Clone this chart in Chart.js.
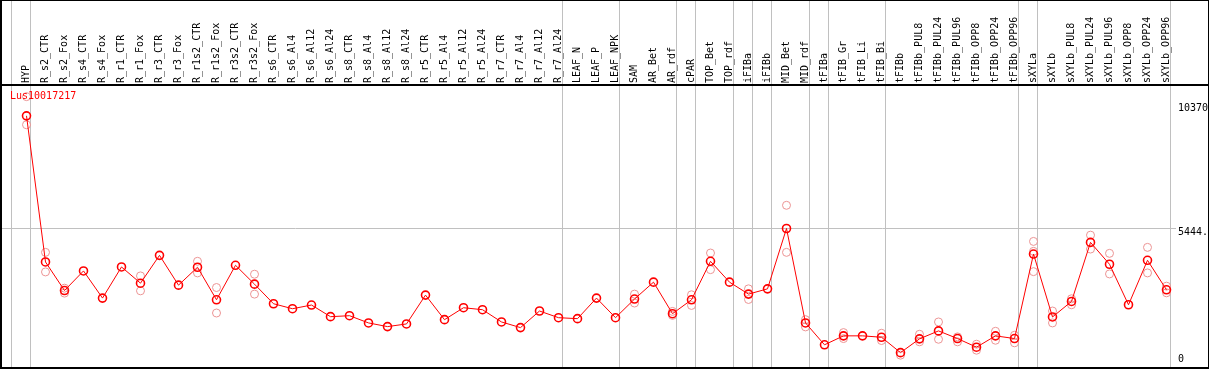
<!DOCTYPE html>
<html>
<head>
<meta charset="utf-8">
<script src="https://cdn.jsdelivr.net/npm/chart.js@4.4.0/dist/chart.umd.min.js"></script>
<style>
  html, body { margin: 0; padding: 0; background: #fff; }
  #wrap { width: 1209px; height: 370px; }
</style>
</head>
<body>
<div id="wrap"><canvas id="exprChart"></canvas></div>
<script>
// gene shown in the plot
const geneName = 'Lus10017217';

// sample names (x categories)
const samples = ['HYP', 'R_s2_CTR', 'R_s2_Fox', 'R_s4_CTR', 'R_s4_Fox', 'R_r1_CTR', 'R_r1_Fox', 'R_r3_CTR', 'R_r3_Fox',
  'R_r1s2_CTR', 'R_r1s2_Fox', 'R_r3s2_CTR', 'R_r3s2_Fox', 'R_s6_CTR', 'R_s6_Al4', 'R_s6_Al12', 'R_s6_Al24',
  'R_s8_CTR', 'R_s8_Al4', 'R_s8_Al12', 'R_s8_Al24', 'R_r5_CTR', 'R_r5_Al4', 'R_r5_Al12', 'R_r5_Al24',
  'R_r7_CTR', 'R_r7_Al4', 'R_r7_Al12', 'R_r7_Al24', 'LEAF_N', 'LEAF_P', 'LEAF_NPK', 'SAM', 'AR_Bet', 'AR_rdf',
  'cPAR', 'TOP_Bet', 'TOP_rdf', 'iFIBa', 'iFIBb', 'MID_Bet', 'MID_rdf', 'tFIBa', 'tFIB_Gr', 'tFIB_Li', 'tFIB_Bi',
  'tFIBb', 'tFIBb_PUL8', 'tFIBb_PUL24', 'tFIBb_PUL96', 'tFIBb_OPP8', 'tFIBb_OPP24', 'tFIBb_OPP96',
  'sXYLa', 'sXYLb', 'sXYLb_PUL8', 'sXYLb_PUL24', 'sXYLb_PUL96', 'sXYLb_OPP8', 'sXYLb_OPP24', 'sXYLb_OPP96'];

// mean expression per sample
const meanExpr = [9885, 4073, 2938, 3717, 2637, 3875, 3230, 4337, 3151, 3863, 2570, 3942, 3191, 2412, 2214, 2361,
  1898, 1937, 1649, 1503, 1609, 2756, 1779, 2254, 2175, 1688, 1463, 2123, 1858, 1819, 2637, 1858, 2598, 3270,
  2017, 2570, 4100, 3270, 2795, 3005, 5405, 1649, 779, 1135, 1135, 1080, 468, 1016, 1332, 1028, 684, 1135,
  1028, 4389, 1886, 2503, 4852, 3982, 2372, 4140, 2966];

// replicate values (null where hidden under the mean marker)
const repHigh = [10648, 4456, 3032, null, null, null, 3519, null, null, 4100, 3057, null, 3586, null, null, null,
  null, null, null, null, null, null, null, null, null, null, null, null, null, null, null, null, 2795, null,
  2107, 2768, 4429, null, 3005, null, 6327, 1779, null, 1265, null, 1238, null, 1198, 1688, 1094, 803, 1317,
  1159, 4891, 2123, 2610, 5140, 4417, null, 4654, 3112];
const repLow = [9530, 3677, 2835, null, null, null, 2926, null, null, 3638, 2044, null, 2795, null, null, null,
  null, null, null, null, null, null, null, null, null, null, null, null, null, null, null, null, 2440, null,
  1949, 2345, 3768, null, 2582, null, 4456, 1491, null, 1028, null, 949, 368, 898, 1000, 898, 565, 961,
  858, 3689, 1649, 2372, 4587, 3598, null, 3638, 2847];
const repExtra = samples.map(s => s === 'sXYLa' ? 4496 : null);

// y axis
const yTicks = [0, 5444, 10370];
const yTickLabels = ['0', '5444.', '10370'];
const yMax = 11111;

// sample index after which a group separator is drawn
const groupEnds = [-1, 0, 28, 31, 34, 35, 37, 38, 39, 41, 42, 45, 52, 53, 60];

const monoFont = { family: 'DejaVu Sans Mono', size: 10 };

const framePlugin = {
    id: 'frame',
    beforeDatasetsDraw(chart) {
        const { ctx, chartArea, scales: { x, y } } = chart;
        const x0 = x.getPixelForValue(0);
        const step = x.getPixelForValue(1) - x0;
        ctx.save();
        ctx.strokeStyle = '#c0c0c0';
        ctx.lineWidth = 1;
        groupEnds.forEach(i => {
            const px = Math.round(x0 + (i + 0.2) * step) + 0.5;
            ctx.beginPath();
            ctx.moveTo(px, 0);
            ctx.lineTo(px, chart.height - 2);
            ctx.stroke();
        });
        const gy = Math.round(y.getPixelForValue(yTicks[1])) + 0.5;
        ctx.beginPath();
        ctx.moveTo(2, gy);
        ctx.lineTo(chartArea.right, gy);
        ctx.stroke();
        ctx.restore();
    },
    afterDraw(chart) {
        const { ctx, chartArea, scales: { y } } = chart;
        ctx.save();
        ctx.strokeStyle = '#000';
        ctx.lineWidth = 2;
        ctx.strokeRect(1, 0, chart.width - 1, chart.height - 2);
        ctx.beginPath();
        ctx.moveTo(0, chartArea.top);
        ctx.lineTo(chart.width, chartArea.top);
        ctx.stroke();

        ctx.font = '10px "DejaVu Sans Mono"';
        ctx.fillStyle = '#000';
        ctx.textAlign = 'left';
        yTicks.forEach((v, i) => {
            const py = y.getPixelForValue(v);
            ctx.textBaseline = v === 0 ? 'bottom' : 'top';
            ctx.fillText(yTickLabels[i], chartArea.right + 2, py);
        });

        ctx.fillStyle = '#ff0000';
        ctx.textBaseline = 'top';
        ctx.fillText(geneName, 10, chartArea.top + 6);
        ctx.restore();
    }
};

const repStyle = {
    type: 'line',
    showLine: false,
    pointRadius: 4,
    pointBorderWidth: 1,
    pointBorderColor: '#ec9494',
    pointBackgroundColor: 'rgba(0,0,0,0)'
};

const config = {
    type: 'line',
    data: {
        labels: samples,
        datasets: [{
            label: geneName,
            data: meanExpr,
            borderColor: '#ff0000',
            borderWidth: 1,
            pointRadius: 4,
            pointBorderWidth: 1.6,
            pointBorderColor: '#ff0000',
            pointBackgroundColor: 'rgba(0,0,0,0)',
            tension: 0
        },
        { ...repStyle, data: repHigh },
        { ...repStyle, data: repLow },
        { ...repStyle, data: repExtra }]
    },
    options: {
        responsive: true,
        maintainAspectRatio: false,
        animation: false,
        layout: { padding: { left: 17, right: 33, top: 0, bottom: 4 } },
        plugins: { legend: { display: false }, tooltip: { enabled: false } },
        scales: {
            x: {
                position: 'top',
                offset: true,
                grid: { display: false },
                border: { display: false },
                ticks: {
                    autoSkip: false,
                    maxRotation: 90,
                    minRotation: 90,
                    padding: -6,
                    labelOffset: 12,
                    color: '#000',
                    font: monoFont
                },
                afterFit: s => { s.height = 85; }
            },
            y: {
                display: false,
                min: 0,
                max: yMax
            }
        }
    },
    plugins: [framePlugin]
};

const ctx = document.getElementById('exprChart').getContext('2d');
const exprChart = new Chart(ctx, config);
</script>
</body>
</html>
